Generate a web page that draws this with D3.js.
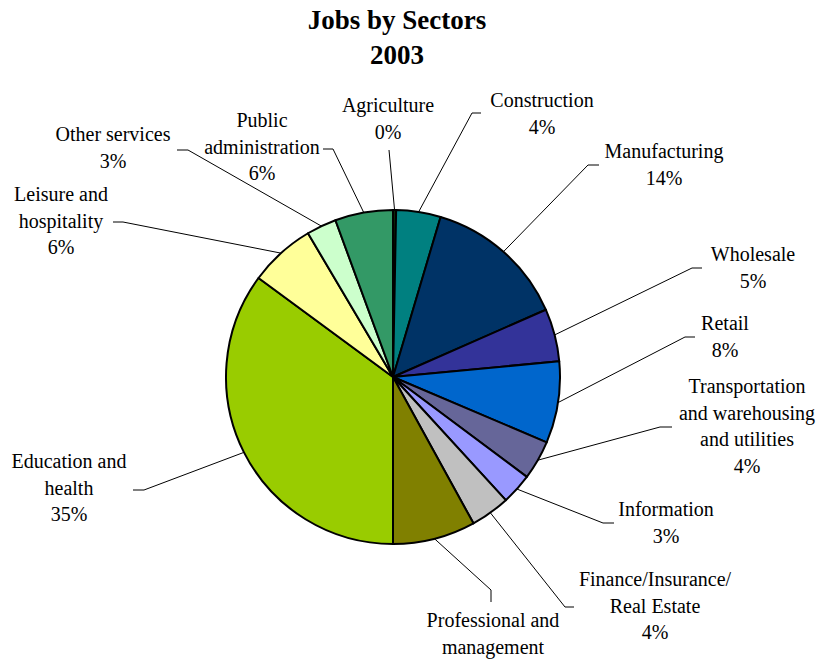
<!DOCTYPE html>
<html>
<head>
<meta charset="utf-8">
<script src="https://cdn.jsdelivr.net/npm/d3@7"></script>
<style>
  html, body { margin: 0; padding: 0; background: #fff; }
  svg { display: block; }
</style>
</head>
<body>
<svg id="chart" width="817" height="660"></svg>
<script>
// Share of jobs by sector, 2003 (percent of total), clockwise from 12 o'clock
const sectors = [
  "Agriculture", "Construction", "Manufacturing", "Wholesale", "Retail",
  "Transportation and warehousing and utilities", "Information",
  "Finance/Insurance/Real Estate", "Professional and management",
  "Education and health", "Leisure and hospitality", "Other services",
  "Public administration"
];
const shares = [0.3, 4.3, 13.8, 5.1, 7.9, 3.8, 3.0, 3.8, 8.0, 35.1, 6.4, 2.9, 5.6];

// How each sector's name is broken onto lines in its label
const labelLines = [
  ["Agriculture"], ["Construction"], ["Manufacturing"], ["Wholesale"], ["Retail"],
  ["Transportation", "and warehousing", "and utilities"], ["Information"],
  ["Finance/Insurance/", "Real Estate"], ["Professional and", "management"],
  ["Education and", "health"], ["Leisure and", "hospitality"], ["Other services"],
  ["Public", "administration"]
];

const sliceColors = [
  "#0a2a0a", "#008080", "#003366", "#333399", "#0066CC", "#666699", "#9999FF",
  "#C0C0C0", "#808000", "#99CC00", "#FFFF99", "#CCFFCC", "#339966"
];

const titleLines = ["Jobs by Sectors", "2003"];

// Label layout: text centre x, first baseline y, leader elbow and end points.
// The bottom label runs off the page, so its share line is left out.
const labelLayout = [
  { x: 388, y: 112, elbow: [389, 150], end: [389, 150] },
  { x: 542, y: 107, elbow: [472, 113], end: [481, 113] },
  { x: 664, y: 158, elbow: [588, 165], end: [599, 165] },
  { x: 753, y: 261, elbow: [692, 268], end: [702, 268] },
  { x: 725, y: 330, elbow: [685, 337], end: [695, 337] },
  { x: 747, y: 393, elbow: [660, 427], end: [672, 427] },
  { x: 666, y: 516, elbow: [603, 523], end: [614, 523] },
  { x: 655, y: 586, elbow: [565, 607], end: [574, 607] },
  { x: 493, y: 627, elbow: [491, 590], end: [491, 602], noShare: true },
  { x: 69,  y: 468, elbow: [144, 490], end: [133, 490] },
  { x: 61,  y: 201, elbow: [123, 222], end: [113, 222] },
  { x: 113, y: 141, elbow: [188, 150], end: [177, 150] },
  { x: 262, y: 127, elbow: [333, 149], end: [323, 149] }
];

const FONT = "'Liberation Serif', 'DejaVu Serif', 'Times New Roman', serif";

const svg = d3.select("#chart");
const cx = 393, cy = 377, radius = 167;
const lineGap = 26.5;

// Title
svg.append("g").selectAll("text")
  .data(titleLines)
  .join("text")
  .attr("x", 397)
  .attr("y", (d, i) => 29 + i * 35)
  .attr("text-anchor", "middle")
  .attr("font-family", FONT)
  .style("font-family", FONT)
  .attr("font-size", 27)
  .attr("font-weight", "bold")
  .attr("fill", "#000")
  .text(d => d);

const data = sectors.map((name, i) => ({
  name, value: shares[i], color: sliceColors[i], lines: labelLines[i], layout: labelLayout[i]
}));

const pie = d3.pie().value(d => d.value).sort(null);
const arcs = pie(data);
const arc = d3.arc().innerRadius(0).outerRadius(radius);

const g = svg.append("g").attr("transform", `translate(${cx},${cy})`);

g.selectAll("path.slice")
  .data(arcs)
  .join("path")
  .attr("class", "slice")
  .attr("d", arc)
  .attr("fill", d => d.data.color)
  .attr("stroke", "#000")
  .attr("stroke-width", 2)
  .attr("stroke-linejoin", "round");

// Leader lines from each slice's outer mid-arc to its label
const edgePoint = d => {
  const a = (d.startAngle + d.endAngle) / 2;
  return [cx + radius * Math.sin(a), cy - radius * Math.cos(a)];
};

svg.append("g").selectAll("polyline")
  .data(arcs)
  .join("polyline")
  .attr("fill", "none")
  .attr("stroke", "#000")
  .attr("stroke-width", 1)
  .attr("points", d => [edgePoint(d), d.data.layout.elbow, d.data.layout.end].map(p => p.join(",")).join(" "));

// Labels: sector name lines, then the rounded share
const fmt = v => `${Math.round(v)}%`;
const labels = svg.append("g").selectAll("text")
  .data(arcs)
  .join("text")
  .attr("text-anchor", "middle")
  .attr("font-family", FONT)
  .style("font-family", FONT)
  .attr("font-size", 20)
  .attr("fill", "#000");

labels.selectAll("tspan")
  .data(d => {
    const rows = d.data.layout.noShare ? d.data.lines : d.data.lines.concat([fmt(d.data.value)]);
    return rows.map((t, i) => ({ t, i, lay: d.data.layout }));
  })
  .join("tspan")
  .attr("x", d => d.lay.x)
  .attr("y", d => d.lay.y + d.i * lineGap)
  .text(d => d.t);
</script>
</body>
</html>
